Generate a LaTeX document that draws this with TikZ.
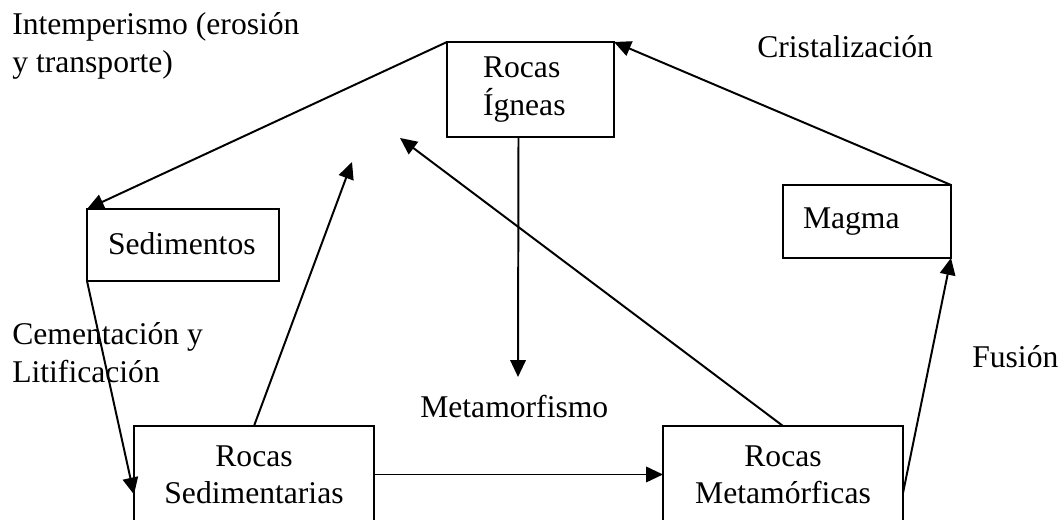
\documentclass[tikz,border=0pt]{standalone}
\usepackage{fontspec}
\setmainfont{Liberation Serif}
\usetikzlibrary{arrows.meta}

\begin{document}
\begin{tikzpicture}[
  font=\fontsize{22.5}{26.5}\selectfont,
  roca/.style={draw, line width=1.4pt, outer sep=0pt, inner ysep=0pt},
  flecha/.style={line width=1.4pt, -{Triangle[length=12pt,width=11pt]}},
  etiqueta/.style={inner sep=0pt, anchor=base west, align=flush left}
]
\useasboundingbox (0,0) rectangle (26.55,13);
\clip (0,0) rectangle (26.55,13);

% cajas del ciclo
\node[roca, text width=2.375cm, inner xsep=0.9cm, minimum height=2.375cm, align=flush left]
  (igneas) at (13.2625,10.7625) {Rocas\\Ígneas};
\node[roca, text width=3.75cm, inner xsep=0.525cm, minimum height=1.8cm, align=flush left, text depth=0.25em]
  (sedimentos) at (4.575,6.875) {Sedimentos};
\node[roca, text width=3.2cm, inner xsep=0.5cm, minimum height=1.825cm, align=flush left]
  (magma) at (21.675,7.4625) {Magma};
\node[roca, text width=6cm, inner xsep=0pt, minimum height=2.425cm, align=center]
  (sedimentarias) at (6.35,1.1375) {Rocas\\Sedimentarias};
\node[roca, text width=6cm, inner xsep=0pt, minimum height=2.425cm, align=center]
  (metamorficas) at (19.575,1.1375) {Rocas\\Metamórficas};

% puntas sueltas
\coordinate (bajada) at (12.95,3.575);
\coordinate (subidaSed) at (8.8,8.95);
\coordinate (subidaMet) at (10.0,9.55);

% procesos
\node[etiqueta, text width=8cm] (intemperismo) at (0.3,12.125) {Intemperismo (erosión\\y transporte)};
\node[etiqueta] (cristalizacion) at (18.925,11.55) {Cristalización};
\node[etiqueta, text width=6cm] (cementacion) at (0.3,4.375) {Cementación y\\Litificación};
\node[etiqueta] (fusion) at (24.3,3.8) {Fusión};
\node[etiqueta] (metamorfismo) at (10.5,2.55) {Metamorfismo};

% flechas
\draw[flecha] (igneas.north west) -- (sedimentos.north west);
\draw[flecha] (magma.north east) -- (igneas.north east);
\draw[flecha] ([xshift=-0.3cm]igneas.south) -- (bajada);
\draw[flecha] (sedimentos.south west) -- ([yshift=-0.5cm]sedimentarias.west);
\draw[flecha] (sedimentarias.north) -- (subidaSed);
\draw[flecha] (metamorficas.north) -- (subidaMet);
\draw[flecha] (sedimentarias.east) -- (metamorficas.west);
\draw[flecha] ([yshift=-0.4625cm]metamorficas.east) -- (magma.south east);
\end{tikzpicture}
\end{document}
